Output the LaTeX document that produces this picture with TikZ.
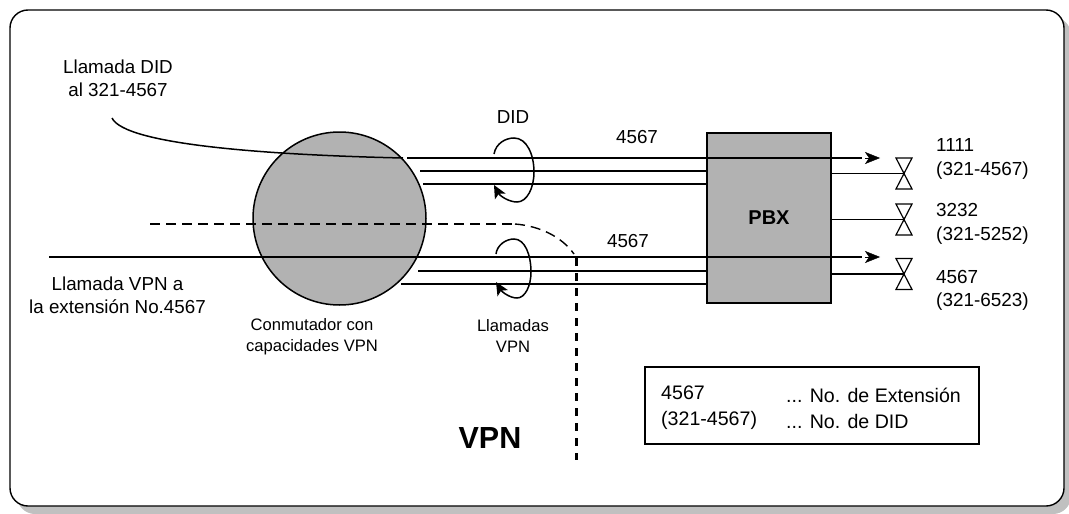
\documentclass[tikz,border=0pt]{standalone}
\usepackage{fontspec}
\setmainfont{Liberation Sans}
\usetikzlibrary{arrows.meta}
\definecolor{relleno}{HTML}{B2B2B2}
\definecolor{sombra}{HTML}{C0C0C0}
\tikzset{
  linea/.style={line width=1.5pt},
  flecha/.style={-{Stealth[length=15pt, width=12pt, inset=4pt]}, shorten <=3pt},
  giro/.style={linea, -{Stealth[length=13pt, width=12pt, inset=3pt]}},
  valvula/.style={line width=1.2pt},
  texto/.style={font=\fontsize{18.8}{23}\selectfont, align=center, inner sep=0pt},
  chico/.style={font=\fontsize{16.6}{21}\selectfont, align=center, inner sep=0pt},
  etiqueta/.style={font=\fontsize{18.9}{23.3}\selectfont, align=left, anchor=west, inner sep=0pt},
  leyendatxt/.style={font=\fontsize{19.6}{26}\selectfont, align=left, anchor=west, inner sep=0pt}
}
\begin{document}
\begin{tikzpicture}[x=1pt, y=-1pt]
  \useasboundingbox (0,0) rectangle (1069,514);
  % marco
  \fill[sombra, rounded corners=18pt] (17,17) rectangle (1071,514);
  \draw[fill=white, rounded corners=18pt, line width=1.4pt] (10,10) rectangle (1064,506);

  \node[circle, draw, fill=relleno, linea, minimum size=173pt, inner sep=0pt] (conmutador) at (339.5,218.5) {};
  \node[rectangle, draw, fill=relleno, linea, minimum width=124pt, minimum height=170pt, inner sep=0pt,
    font=\bfseries\fontsize{20}{24}\selectfont] (pbx) at (769,218) {PBX};

  \coordinate (did0) at (112,118);
  \coordinate (did9) at (403,158);
  \coordinate (did1) at (407,158);
  \coordinate (did2) at (420,171);
  \coordinate (did3) at (423,184);
  \coordinate (vpn1) at (49,257);
  \coordinate (vpn2) at (418,271);
  \coordinate (vpn3) at (401,284);
  \coordinate (v1) at (904,173.5);
  \coordinate (v2) at (904,219.5);
  \coordinate (v3) at (904,274);
  \coordinate (cola1) at (862,158);
  \coordinate (cola2) at (862,257);
  \coordinate (fin1) at (880,158);
  \coordinate (fin2) at (880,257);

  % llamadas
  \draw[linea] (did0) .. controls (125,145) and (270,155) .. (did9);
  \draw[linea] (did1) -- (cola1);
  \draw[flecha] (cola1) -- (fin1);
  \draw[linea] (did2) -- (did2 -| pbx.west);
  \draw[linea] (did3) -- (did3 -| pbx.west);
  \draw[linea] (vpn1) -- (cola2);
  \draw[flecha] (cola2) -- (fin2);
  \draw[linea] (vpn2) -- (vpn2 -| pbx.west);
  \draw[linea] (vpn3) -- (vpn3 -| pbx.west);

  % salidas
  \foreach \v in {v1,v2,v3} {
    \draw[linea] (\v -| pbx.east) -- (\v);
    \draw[valvula] (\v) ++(-8,-15.5) -- ++(16,0) -- ++(-16,31) -- ++(16,0) -- cycle;
  }

  % giros
  \draw[giro] (494,154) .. controls (496,143) and (506,138) .. (514,138)
    .. controls (527,138) and (534,155) .. (534,172)
    .. controls (534,188) and (527,202) .. (517,202)
    .. controls (509,202) and (500,196) .. (494,185);
  \draw[giro] (496,254) .. controls (497,245) and (506,239) .. (514,239)
    .. controls (525,239) and (531,255) .. (531,272)
    .. controls (531,286) and (525,298) .. (517,298)
    .. controls (510,298) and (502,292) .. (496,282);

  % limite de la VPN
  \coordinate (lim0) at (150,224);
  \coordinate (lim1) at (515,224);
  \coordinate (lim9) at (574,254);
  \coordinate (lim2) at (576,258);
  \coordinate (lim3) at (576,460);
  \draw[line width=1.9pt, dash pattern=on 10pt off 6pt] (lim0) -- (lim1);
  \draw[line width=1.4pt, dash pattern=on 10pt off 6pt] (lim1) .. controls (540,226) and (562,237) .. (lim9);
  \draw[line width=3pt, dash pattern=on 8pt off 7pt] (lim2) -- (lim3);

  % textos
  \node[texto] (llamadadid) at (118,78.5) {Llamada DID\\al 321-4567};
  \node[texto] (llamadavpn) at (117.5,295) {Llamada VPN a\\la extensión No.4567};
  \node[chico] (capacidades) at (312,337) {Conmutador con\\capacidades VPN};
  \node[chico] (llamadas) at (513,335.5) {Llamadas\\VPN};
  \node[texto] (did) at (513,117) {DID};
  \node[texto] (num1) at (637,137.5) {4567};
  \node[texto] (num2) at (628,241) {4567};
  \node[etiqueta] (ext1) at (936,159) {1111\\(321-4567)};
  \node[etiqueta] (ext2) at (936,224) {3232\\(321-5252)};
  \node[etiqueta] (ext3) at (936,290.5) {4567\\(321-6523)};
  \node[font=\bfseries\fontsize{30.5}{36}\selectfont, inner sep=0pt] (vpn) at (490,438) {VPN};

  % leyenda
  \node[rectangle, draw, linea, minimum width=334pt, minimum height=77pt, inner sep=0pt] (leyenda) at (812,405.5) {};
  \node[leyendatxt] (leyenda1) at (661,408) {4567\\(321-4567)};
  \node[leyendatxt] (leyenda2) at (786,408) {... No. de Extensión\\... No. de DID};
\end{tikzpicture}
\end{document}
